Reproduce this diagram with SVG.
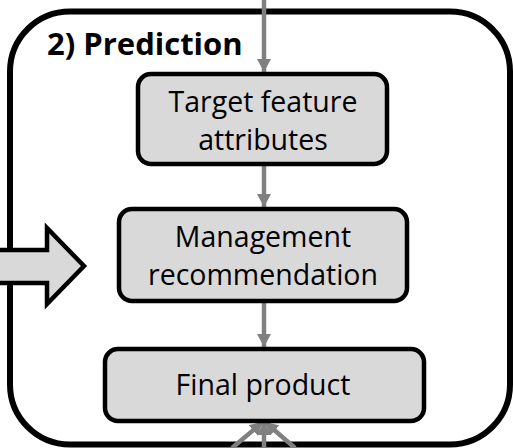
<svg xmlns="http://www.w3.org/2000/svg" width="513" height="448" viewBox="0 0 513 448">
<style>
.box{fill:#d9d9d9;stroke:#000;stroke-width:4.5}
.lbl{font-family:"Open Sans","Liberation Sans",sans-serif;font-size:28.5px;fill:#000;text-anchor:middle;font-variant-ligatures:none}
.title{font-family:"Open Sans","Liberation Sans",sans-serif;font-size:31px;font-weight:bold;fill:#000}
.conn{stroke:#808080;stroke-width:4.5;fill:none}
</style>
<defs>
<marker id="ah" markerUnits="userSpaceOnUse" markerWidth="14" markerHeight="14" viewBox="0 0 14 14" refX="13" refY="7" orient="auto">
<path d="M0,0 L13,7 L0,14 Z" fill="#808080"/>
</marker>
</defs>
<g id="container">
<rect x="10" y="11.5" width="500" height="433" rx="60" ry="60" fill="#fff" stroke="#000" stroke-width="6"/>
<text class="title" x="47" y="55">2) Prediction</text>
</g>
<g id="input-arrow">
<polygon points="-5,250 47,250 47,228 84,266 47,304 47,283 -5,283" fill="#d9d9d9" stroke="#000" stroke-width="4.5" stroke-linejoin="miter"/>
</g>
<g id="connectors">
<line class="conn" x1="264" y1="0" x2="264" y2="72" marker-end="url(#ah)"/>
<line class="conn" x1="264" y1="165" x2="264" y2="207" marker-end="url(#ah)"/>
<line class="conn" x1="264" y1="302" x2="264" y2="347" marker-end="url(#ah)"/>
<line class="conn" x1="264" y1="448" x2="264" y2="422" marker-end="url(#ah)"/>
<line class="conn" x1="232" y1="448" x2="263" y2="422" marker-end="url(#ah)"/>
<line class="conn" x1="295" y1="448" x2="265" y2="422" marker-end="url(#ah)"/>
</g>
<g id="target-feature-attributes">
<rect class="box" x="138" y="74" width="249" height="90" rx="13"/>
<text class="lbl" x="263" y="112">Target feature</text>
<text class="lbl" x="263" y="150">attributes</text>
</g>
<g id="management-recommendation">
<rect class="box" x="119" y="209" width="288" height="92" rx="13"/>
<text class="lbl" x="263" y="247">Management</text>
<text class="lbl" x="263" y="285">recommendation</text>
</g>
<g id="final-product">
<rect class="box" x="105" y="349" width="319" height="72" rx="13"/>
<text class="lbl" x="263" y="395">Final product</text>
</g>
</svg>
